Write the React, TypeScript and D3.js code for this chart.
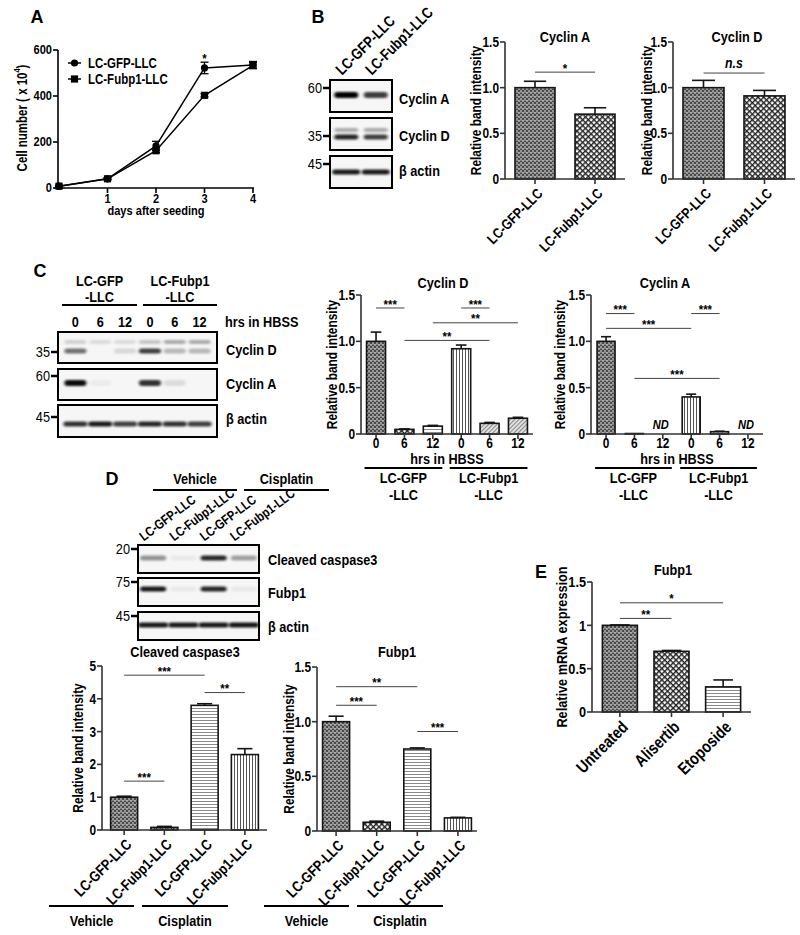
import React from 'react';
import * as d3 from 'd3';

type Sig = [number, number, number, string];

const FONT = "'Liberation Sans', Arial, Helvetica, sans-serif";
const NARROW = 0.82;

// ---------- Panel A : growth curve ----------
const daysA = [0, 1, 2, 3, 4];
const gfpCells = [8, 40, 183, 522, 535];
const gfpCellsErr = [3, 4, 20, 25, 15];
const fubCells = [8, 40, 162, 403, 533];
const fubCellsErr = [3, 4, 8, 7, 14];
const yTicksA = [0, 200, 400, 600];
const xTicksA = [1, 2, 3, 4];
const legendA = ['LC-GFP-LLC', 'LC-Fubp1-LLC'];

// ---------- Panel B ----------
const groupsB = ['LC-GFP-LLC', 'LC-Fubp1-LLC'];
const cycA_B = [1.0, 0.71];
const cycA_BErr = [0.07, 0.07];
const cycD_B = [1.0, 0.91];
const cycD_BErr = [0.08, 0.06];
const sigCycA_B: Sig[] = [[0, 1, 1.17, '*']];
const sigCycD_B: Sig[] = [[0, 1, 1.16, 'n.s']];
const blotB_cycA = [1.0, 0.75];
const blotB_cycDup = [0.3, 0.3];
const blotB_cycD = [0.85, 0.75];
const blotB_actin = [0.9, 0.9];

// ---------- Panel C ----------
const hrsC = ['0', '6', '12', '0', '6', '12'];
const linesC = ['LC-GFP', 'LC-Fubp1'];
const cycD_C = [1.0, 0.05, 0.085, 0.92, 0.115, 0.17];
const cycD_CErr = [0.1, 0.005, 0.008, 0.04, 0.01, 0.01];
const cycA_C = [1.0, 0.005, 0, 0.4, 0.025, 0];
const cycA_CErr = [0.05, 0, 0, 0.03, 0.005, 0];
const ndC = [false, false, true, false, false, true];
const sigCycD_C: Sig[] = [[0, 1, 1.36, '***'], [3, 4, 1.36, '***'], [2, 5, 1.2, '**'], [1, 4, 1.01, '**']];
const sigCycA_C: Sig[] = [[0, 1, 1.3, '***'], [3, 4, 1.3, '***'], [0, 3, 1.14, '***'], [1, 4, 0.6, '***']];
const blotC_cycDup = [0.15, 0.1, 0.1, 0.2, 0.3, 0.3];
const blotC_cycD = [0.55, 0.0, 0.12, 0.75, 0.25, 0.25];
const blotC_cycA = [0.95, 0.04, 0.0, 0.8, 0.1, 0.0];
const blotC_actin = [0.8, 0.9, 0.75, 0.85, 0.8, 0.75];

// ---------- Panel D ----------
const groupsD = ['LC-GFP-LLC', 'LC-Fubp1-LLC', 'LC-GFP-LLC', 'LC-Fubp1-LLC'];
const treatD = ['Vehicle', 'Cisplatin'];
const cc3_D = [1.0, 0.08, 3.8, 2.3];
const cc3_DErr = [0.03, 0.03, 0.05, 0.18];
const fub_D = [1.0, 0.08, 0.75, 0.12];
const fub_DErr = [0.05, 0.01, 0.01, 0.005];
const sigCC3_D: Sig[] = [[0, 2, 4.72, '***'], [2, 3, 4.19, '**'], [0, 1, 1.49, '***']];
const sigFub_D: Sig[] = [[0, 2, 1.32, '**'], [0, 1, 1.15, '***'], [2, 3, 0.91, '***']];
const blotD_cc3 = [0.4, 0.05, 0.85, 0.35];
const blotD_fub = [0.9, 0.05, 0.85, 0.05];
const blotD_actin = [0.9, 0.9, 0.9, 0.92];

// ---------- Panel E ----------
const treatE = ['Untreated', 'Alisertib', 'Etoposide'];
const fubE = [1.0, 0.7, 0.29];
const fubEErr = [0.005, 0.01, 0.08];
const sigE: Sig[] = [[0, 2, 1.26, '*'], [0, 1, 1.08, '**']];

const INK = '#151515';

interface TProps {
  x: number; y: number; size: number; rot?: number; anchor?: 'start' | 'middle' | 'end';
  italic?: boolean; weight?: string; sx?: number; children: React.ReactNode;
}
function T({ x, y, size, rot = 0, anchor = 'start', italic, weight = 'bold', sx = NARROW, children }: TProps) {
  return (
    <text transform={`translate(${x},${y}) rotate(${rot}) scale(${sx},1)`} fontSize={size} textAnchor={anchor}
      dominantBaseline="central" fontStyle={italic ? 'italic' : 'normal'} fontWeight={weight}>{children}</text>
  );
}

function Defs() {
  return (
    <defs>
      <pattern id="pDense" width={4} height={4} patternUnits="userSpaceOnUse">
        <rect width={4} height={4} fill="#959595" />
        <rect width={2} height={2} fill="#4a4a4a" />
        <rect x={2} y={2} width={2} height={2} fill="#4a4a4a" />
        <rect width={4} height={0.8} fill="#d0d0d0" opacity={0.5} />
      </pattern>
      <pattern id="pChk" width={4} height={4} patternUnits="userSpaceOnUse" patternTransform="rotate(45)">
        <rect width={4} height={4} fill="#ffffff" />
        <rect width={4} height={1.4} fill="#222" />
        <rect width={1.4} height={4} fill="#222" />
      </pattern>
      <pattern id="pH" width={4} height={3} patternUnits="userSpaceOnUse">
        <rect width={4} height={3} fill="#ffffff" />
        <rect width={4} height={1} fill="#8a8a8a" />
      </pattern>
      <pattern id="pV" width={3} height={4} patternUnits="userSpaceOnUse">
        <rect width={3} height={4} fill="#ffffff" />
        <rect width={1} height={4} fill="#555" />
      </pattern>
      <pattern id="pDiag" width={3} height={3} patternUnits="userSpaceOnUse" patternTransform="rotate(45)">
        <rect width={3} height={3} fill="#e4e4e4" />
        <rect width={1.1} height={3} fill="#8a8a8a" />
      </pattern>
      <filter id="blur" x="-50%" y="-150%" width="200%" height="400%">
        <feGaussianBlur stdDeviation="1.6 1.1" />
      </filter>
    </defs>
  );
}

interface BarProps {
  x0: number; x1: number; yTop: number; yBot: number; max: number;
  ticks: number[]; tickLabels: string[]; pad: number; bw: number;
  vals: number[]; errs: number[]; pats: string[]; sig: Sig[];
  title: string; titleX: number; titleY: number;
  ylabel: string; ylabelX: number; ylabelSize?: number;
  rotLabels?: string[]; rotSize?: number; numLabels?: string[]; nd?: boolean[];
  italicSig?: boolean; tickSize?: number;
}

function BarChart(p: BarProps) {
  const idx = d3.range(p.vals.length);
  const x = d3.scalePoint<number>().domain(idx).range([p.x0, p.x1]).padding(p.pad);
  const y = d3.scaleLinear().domain([0, p.max]).range([p.yBot, p.yTop]);
  const cx = (i: number) => x(i) as number;
  return (
    <g>
      <T x={p.titleX} y={p.titleY} anchor="middle" size={15.5}>{p.title}</T>
      <T x={p.ylabelX} y={(p.yTop + p.yBot) / 2} rot={-90} anchor="middle" size={p.ylabelSize ?? 14.5}>{p.ylabel}</T>
      {idx.map(i => p.vals[i] > 0 && (
        <rect key={'b' + i} x={cx(i) - p.bw / 2} y={y(p.vals[i])} width={p.bw} height={p.yBot - y(p.vals[i])}
          fill={`url(#${p.pats[i]})`} stroke={INK} strokeWidth={1.6} />
      ))}
      {idx.map(i => p.errs[i] > 0 && (
        <g key={'e' + i} stroke={INK} strokeWidth={1.6}>
          <line x1={cx(i)} x2={cx(i)} y1={y(p.vals[i])} y2={y(p.vals[i] + p.errs[i])} />
          <line x1={cx(i) - p.bw * 0.28} x2={cx(i) + p.bw * 0.28} y1={y(p.vals[i] + p.errs[i])} y2={y(p.vals[i] + p.errs[i])} />
        </g>
      ))}
      <line x1={p.x0} x2={p.x0} y1={p.yTop} y2={p.yBot} stroke="#333" strokeWidth={1.6} />
      <line x1={p.x0} x2={p.x1} y1={p.yBot} y2={p.yBot} stroke="#333" strokeWidth={1.6} />
      {p.ticks.map((t, k) => (
        <g key={'t' + k}>
          <line x1={p.x0 - 5} x2={p.x0} y1={y(t)} y2={y(t)} stroke="#333" strokeWidth={1.6} />
          <T x={p.x0 - 6} y={y(t)} anchor="end" size={p.tickSize ?? 14.5}>{p.tickLabels[k]}</T>
        </g>
      ))}
      {idx.map(i => <line key={'xt' + i} x1={cx(i)} x2={cx(i)} y1={p.yBot} y2={p.yBot + 5} stroke="#333" strokeWidth={1.6} />)}
      {p.rotLabels && idx.map(i => (
        <T key={'rl' + i} x={cx(i) + 5} y={p.yBot + 12} rot={-45} anchor="end" size={p.rotSize ?? 14.5}>{p.rotLabels[i]}</T>
      ))}
      {p.numLabels && idx.map(i => (
        <T key={'nl' + i} x={cx(i)} y={p.yBot + 9} anchor="middle" size={14.5}>{p.numLabels[i]}</T>
      ))}
      {p.nd && idx.map(i => p.nd![i] && (
        <T key={'nd' + i} x={cx(i) - 2} y={p.yBot - 9} anchor="middle" size={13.5} italic>ND</T>
      ))}
      {p.sig.map(([a, b, v, lab], k) => (
        <g key={'s' + k}>
          <line x1={cx(a)} x2={cx(b)} y1={y(v)} y2={y(v)} stroke="#444" strokeWidth={1} />
          {p.italicSig
            ? <T x={(cx(a) + cx(b)) / 2} y={y(v) - 10} anchor="middle" size={15} italic>{lab}</T>
            : <T x={(cx(a) + cx(b)) / 2} y={y(v) - 4} anchor="middle" size={12} sx={0.95}>{lab}</T>}
        </g>
      ))}
    </g>
  );
}

interface Band { dy: number; h: number; bw: number; vals: number[] }
function BlotBox({ x, y, w, h, lanes, bands }: { x: number; y: number; w: number; h: number; lanes: number[]; bands: Band[] }) {
  return (
    <g>
      <rect x={x} y={y} width={w} height={h} fill="#f6f6f6" stroke="#000" strokeWidth={2} />
      {bands.map((b, k) => b.vals.map((v, i) => v > 0.01 && (
        <rect key={k + '-' + i} x={lanes[i] - b.bw / 2} y={y + b.dy - b.h / 2} width={b.bw} height={b.h} rx={b.h / 2}
          fill="#000" opacity={v} filter="url(#blur)" />
      )))}
    </g>
  );
}

function Marker({ x, y, label }: { x: number; y: number; label: string }) {
  return (
    <g>
      <line x1={x - 7} x2={x} y1={y} y2={y} stroke="#000" strokeWidth={2.5} />
      <T x={x - 8} y={y} anchor="end" size={15} weight="normal" sx={0.85}>{label}</T>
    </g>
  );
}

function PanelA() {
  const x = d3.scaleLinear().domain([0, 4]).range([59, 253]);
  const y = d3.scaleLinear().domain([0, 600]).range([188, 50]);
  const line = d3.line<number>().x((_, i) => x(daysA[i])).y(v => y(v));
  const series = [
    { vals: gfpCells, errs: gfpCellsErr, shape: 'circle' },
    { vals: fubCells, errs: fubCellsErr, shape: 'square' },
  ];
  const marker = (shape: string, cx: number, cy: number, key: string) =>
    shape === 'circle'
      ? <circle key={key} cx={cx} cy={cy} r={3.6} fill="#000" />
      : <rect key={key} x={cx - 3.6} y={cy - 3.6} width={7.2} height={7.2} fill="#000" />;
  return (
    <g>
      <T x={37} y={17} anchor="middle" size={18} sx={1}>A</T>
      {series.map((s, k) => (
        <g key={k}>
          <path d={line(s.vals) || ''} fill="none" stroke="#000" strokeWidth={1.5} />
          {s.vals.map((v, i) => (
            <g key={i} stroke="#000" strokeWidth={1.3}>
              <line x1={x(daysA[i])} x2={x(daysA[i])} y1={y(v - s.errs[i])} y2={y(v + s.errs[i])} />
              <line x1={x(daysA[i]) - 4} x2={x(daysA[i]) + 4} y1={y(v + s.errs[i])} y2={y(v + s.errs[i])} />
              <line x1={x(daysA[i]) - 4} x2={x(daysA[i]) + 4} y1={y(v - s.errs[i])} y2={y(v - s.errs[i])} />
            </g>
          ))}
          {s.vals.map((v, i) => marker(s.shape, x(daysA[i]), y(v), 'm' + i))}
        </g>
      ))}
      <T x={x(3)} y={y(565)} anchor="middle" size={12} sx={0.95}>*</T>
      <line x1={58} x2={58} y1={50} y2={188} stroke="#000" strokeWidth={1.6} />
      <line x1={58} x2={254} y1={188} y2={188} stroke="#000" strokeWidth={1.6} />
      {yTicksA.map(t => (
        <g key={t}>
          <line x1={53} x2={58} y1={y(t)} y2={y(t)} stroke="#000" strokeWidth={1.6} />
          <T x={52} y={y(t)} anchor="end" size={13.5}>{t}</T>
        </g>
      ))}
      {xTicksA.map(t => (
        <g key={t}>
          <line x1={x(t)} x2={x(t)} y1={188} y2={193} stroke="#000" strokeWidth={1.6} />
          <T x={x(t)} y={199} anchor="middle" size={13.5}>{t}</T>
        </g>
      ))}
      <T x={156} y={211} anchor="middle" size={13.5}>days after seeding</T>
      <text transform={`translate(22,118) rotate(-90) scale(${NARROW},1)`} textAnchor="middle" dominantBaseline="central" fontSize={14}>
        Cell number ( x 10<tspan baselineShift="super" fontSize={9}>4</tspan>)
      </text>
      {legendA.map((lab, k) => (
        <g key={lab}>
          <line x1={68} x2={81} y1={63 + k * 16} y2={63 + k * 16} stroke="#000" strokeWidth={1.5} />
          {marker(series[k].shape, 74.5, 63 + k * 16, 'lg' + k)}
          <T x={88} y={63 + k * 16} size={14}>{lab}</T>
        </g>
      ))}
    </g>
  );
}

function PanelB() {
  const lx = d3.scalePoint<number>().domain([0, 1]).range([330, 392]).padding(0.55);
  const lanes = [0, 1].map(i => lx(i) as number);
  return (
    <g>
      <T x={318} y={17} anchor="middle" size={18} sx={1}>B</T>
      {groupsB.map((g, i) => (
        <T key={g} x={lanes[i] - 8} y={72} rot={-45} size={15.5}>{g}</T>
      ))}
      <BlotBox x={330} y={80} w={62} h={32} lanes={lanes} bands={[{ dy: 15, h: 6, bw: 24, vals: blotB_cycA }]} />
      <BlotBox x={330} y={118} w={62} h={32} lanes={lanes} bands={[{ dy: 12, h: 4, bw: 24, vals: blotB_cycDup }, { dy: 19, h: 5, bw: 24, vals: blotB_cycD }]} />
      <BlotBox x={330} y={156} w={62} h={32} lanes={lanes} bands={[{ dy: 16, h: 5, bw: 28, vals: blotB_actin }]} />
      <Marker x={330} y={88} label="60" />
      <Marker x={330} y={136} label="35" />
      <Marker x={330} y={164} label="45" />
      <T x={399} y={99} size={15.5}>Cyclin A</T>
      <T x={399} y={136} size={15.5}>Cyclin D</T>
      <T x={399} y={171} size={15.5}>β actin</T>
      <BarChart x0={505} x1={625} yTop={42} yBot={179} max={1.5} ticks={[0, 0.5, 1, 1.5]} tickLabels={['0', '0.5', '1.0', '1.5']}
        pad={0.5} bw={40} vals={cycA_B} errs={cycA_BErr} pats={['pDense', 'pChk']} sig={sigCycA_B}
        title="Cyclin A" titleX={565} titleY={37} ylabel="Relative band intensity" ylabelX={476} rotLabels={groupsB} />
      <BarChart x0={673} x1={795} yTop={42} yBot={179} max={1.5} ticks={[0, 0.5, 1, 1.5]} tickLabels={['0', '0.5', '1.0', '1.5']}
        pad={0.5} bw={41} vals={cycD_B} errs={cycD_BErr} pats={['pDense', 'pChk']} sig={sigCycD_B} italicSig
        title="Cyclin D" titleX={737} titleY={37} ylabel="Relative band intensity" ylabelX={647} rotLabels={groupsB} />
    </g>
  );
}

function GroupUnder({ x0, x1, pad, n, yBot, bw }: { x0: number; x1: number; pad: number; n: number; yBot: number; bw: number }) {
  const x = d3.scalePoint<number>().domain(d3.range(n)).range([x0, x1]).padding(pad);
  const spans = [[0, 2], [3, 5]];
  return (
    <g>
      <T x={(x0 + x1) / 2} y={yBot + 25} anchor="middle" size={15.5}>hrs in HBSS</T>
      {spans.map(([a, b], k) => {
        const l = (x(a) as number) - bw / 2 - 2, r = (x(b) as number) + bw / 2;
        return (
          <g key={k}>
            <line x1={l} x2={r} y1={yBot + 34} y2={yBot + 34} stroke="#000" strokeWidth={2} />
            <T x={(l + r) / 2} y={yBot + 44} anchor="middle" size={15.5}>{linesC[k]}</T>
            <T x={(l + r) / 2} y={yBot + 61} anchor="middle" size={15.5}>-LLC</T>
          </g>
        );
      })}
    </g>
  );
}

function PanelC() {
  const lx = d3.scalePoint<number>().domain(d3.range(6)).range([58, 217]).padding(0.7);
  const lanes = d3.range(6).map(i => lx(i) as number);
  return (
    <g>
      <T x={40} y={271} anchor="middle" size={18} sx={1}>C</T>
      {[[62, 137], [143, 217]].map(([l, r], k) => (
        <g key={k}>
          <T x={(l + r) / 2} y={281} anchor="middle" size={15.5}>{linesC[k]}</T>
          <T x={(l + r) / 2} y={297} anchor="middle" size={15.5}>-LLC</T>
          <line x1={l} x2={r} y1={305} y2={305} stroke="#000" strokeWidth={2} />
        </g>
      ))}
      {hrsC.map((h, i) => (
        <T key={i} x={lanes[i]} y={322} anchor="middle" size={15.5}>{h}</T>
      ))}
      <T x={225} y={322} size={15.5}>hrs in HBSS</T>
      <BlotBox x={58} y={332} w={159} h={31} lanes={lanes} bands={[{ dy: 10, h: 4, bw: 22, vals: blotC_cycDup }, { dy: 19, h: 5, bw: 22, vals: blotC_cycD }]} />
      <BlotBox x={58} y={369} w={159} h={31} lanes={lanes} bands={[{ dy: 14, h: 6, bw: 22, vals: blotC_cycA }]} />
      <BlotBox x={58} y={405} w={159} h={32} lanes={lanes} bands={[{ dy: 19, h: 5, bw: 24, vals: blotC_actin }]} />
      <Marker x={58} y={352} label="35" />
      <Marker x={58} y={376} label="60" />
      <Marker x={58} y={417} label="45" />
      <T x={226} y={350} size={15.5}>Cyclin D</T>
      <T x={226} y={384} size={15.5}>Cyclin A</T>
      <T x={226} y={419} size={15.5}>β actin</T>

      <BarChart x0={361} x1={533} yTop={295} yBot={434} max={1.5} ticks={[0, 0.5, 1, 1.5]} tickLabels={['0', '0.5', '1.0', '1.5']}
        pad={0.53} bw={19} vals={cycD_C} errs={cycD_CErr} pats={['pDense', 'pChk', 'pH', 'pV', 'pDiag', 'pDiag']} sig={sigCycD_C}
        title="Cyclin D" titleX={443} titleY={283} ylabel="Relative band intensity" ylabelX={332} numLabels={hrsC} />
      <GroupUnder x0={361} x1={533} pad={0.53} n={6} yBot={434} bw={19} />
      <BarChart x0={591} x1={763} yTop={295} yBot={434} max={1.5} ticks={[0, 0.5, 1, 1.5]} tickLabels={['0', '0.5', '1.0', '1.5']}
        pad={0.53} bw={18} vals={cycA_C} errs={cycA_CErr} pats={['pDense', 'pChk', 'pH', 'pV', 'pDiag', 'pDiag']} sig={sigCycA_C}
        title="Cyclin A" titleX={665} titleY={283} ylabel="Relative band intensity" ylabelX={560} numLabels={hrsC} nd={ndC} />
      <GroupUnder x0={591} x1={763} pad={0.53} n={6} yBot={434} bw={18} />
    </g>
  );
}

function TreatUnder({ x0, y }: { x0: number; y: number }) {
  const spans = [[x0 - 53, x0 + 32], [x0 + 40, x0 + 126]];
  return (
    <g>
      {spans.map(([l, r], k) => (
        <g key={k}>
          <line x1={l} x2={r} y1={y} y2={y} stroke="#000" strokeWidth={2} />
          <T x={(l + r) / 2} y={y + 15} anchor="middle" size={15.5}>{treatD[k]}</T>
        </g>
      ))}
    </g>
  );
}

function PanelD() {
  const lx = d3.scalePoint<number>().domain(d3.range(4)).range([138, 259]).padding(0.5);
  const lanes = d3.range(4).map(i => lx(i) as number);
  return (
    <g>
      <T x={112} y={479} anchor="middle" size={18} sx={1}>D</T>
      {[[153, 237], [244, 329]].map(([l, r], k) => (
        <g key={k}>
          <T x={(l + r) / 2} y={479} anchor="middle" size={15.5}>{treatD[k]}</T>
          <line x1={l} x2={r} y1={490} y2={490} stroke="#000" strokeWidth={2} />
        </g>
      ))}
      {groupsD.map((g, i) => (
        <T key={i} x={lanes[i] - 12} y={538} rot={-37} size={13.5}>{g}</T>
      ))}
      <BlotBox x={138} y={545} w={121} h={28} lanes={lanes} bands={[{ dy: 13, h: 5, bw: 26, vals: blotD_cc3 }]} />
      <BlotBox x={138} y={578} w={121} h={28} lanes={lanes} bands={[{ dy: 11, h: 5, bw: 26, vals: blotD_fub }]} />
      <BlotBox x={138} y={612} w={121} h={28} lanes={lanes} bands={[{ dy: 13, h: 5, bw: 30, vals: blotD_actin }]} />
      <Marker x={138} y={549} label="20" />
      <Marker x={138} y={582} label="75" />
      <Marker x={138} y={616} label="45" />
      <T x={268} y={560} size={15.5}>Cleaved caspase3</T>
      <T x={268} y={593} size={15.5}>Fubp1</T>
      <T x={268} y={627} size={15.5}>β actin</T>

      <BarChart x0={102} x1={267} yTop={666} yBot={830} max={5} ticks={[0, 1, 2, 3, 4, 5]} tickLabels={['0', '1', '2', '3', '4', '5']}
        pad={0.55} bw={27} vals={cc3_D} errs={cc3_DErr} pats={['pDense', 'pChk', 'pH', 'pV']} sig={sigCC3_D}
        title="Cleaved caspase3" titleX={185} titleY={652} ylabel="Relative band intensity" ylabelX={78} rotLabels={groupsD} rotSize={15} />
      <TreatUnder x0={102} y={906} />
      <BarChart x0={317} x1={477} yTop={667} yBot={831} max={1.5} ticks={[0, 0.5, 1, 1.5]} tickLabels={['0', '0.5', '1.0', '1.5']}
        pad={0.47} bw={27} vals={fub_D} errs={fub_DErr} pats={['pDense', 'pChk', 'pH', 'pV']} sig={sigFub_D}
        title="Fubp1" titleX={397} titleY={652} ylabel="Relative band intensity" ylabelX={289} rotLabels={groupsD} rotSize={15} />
      <TreatUnder x0={317} y={906} />
    </g>
  );
}

function PanelE() {
  return (
    <g>
      <T x={541} y={572} anchor="middle" size={18} sx={1}>E</T>
      <BarChart x0={592} x1={751} yTop={582} yBot={712} max={1.5} ticks={[0, 0.5, 1, 1.5]} tickLabels={['0', '0.5', '1', '1.5']}
        pad={0.54} bw={35} vals={fubE} errs={fubEErr} pats={['pDense', 'pChk', 'pH']} sig={sigE} tickSize={15.5}
        title="Fubp1" titleX={673} titleY={570} ylabel="Relative mRNA expression" ylabelX={562} ylabelSize={15.5}
        rotLabels={treatE} rotSize={17} />
    </g>
  );
}

export default function App() {
  return (
    <svg width={800} height={935} viewBox="0 0 800 935" style={{ position: 'absolute', left: 0, top: 0, background: '#fff' }}
      fontFamily={FONT} fontWeight="bold" fill="#000">
      <Defs />
      <rect width={800} height={935} fill="#fff" />
      <PanelA />
      <PanelB />
      <PanelC />
      <PanelD />
      <PanelE />
    </svg>
  );
}
